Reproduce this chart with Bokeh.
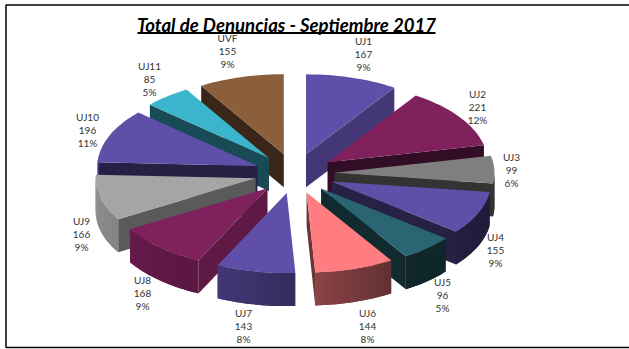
import math
from bokeh.plotting import figure
from bokeh.models import Range1d
from bokeh.core.properties import value
from bokeh.embed import file_html
from bokeh.resources import INLINE

names = ["UJ1","UJ2","UJ3","UJ4","UJ5","UJ6","UJ7","UJ8","UJ9","UJ10","UJ11","UVF"]
counts = [167,221,99,155,96,144,143,168,166,196,85,155]
percents = [9,12,6,9,5,8,8,9,9,11,5,9]
title = "Total de Denuncias - Septiembre 2017"

colors = ["#604fa8","#7f215c","#7f7f7f","#604fa8","#296572","#ff7c80",
          "#604fa8","#7f215c","#a5a5a5","#604fa8","#3bb5cc","#8b5e3c"]
label_pos = [(363,40.5),(477,93.5),(511,156.5),(495,236.5),(442,281.5),(367,312.5),
             (243,312.5),(142,279.5),(81,220.5),(87,116.5),(149,65.5),(227,37.5)]

CX, CY, RX, K, EXPLODE, DEPTH = 294, 173, 160, 0.5, 40, 33

def lerp_table(tbl, a):
    if a <= tbl[0][0]: return tbl[0][1]
    for (a0,v0),(a1,v1) in zip(tbl, tbl[1:]):
        if a <= a1:
            return v0 + (v1-v0)*(a-a0)/(a1-a0)
    return tbl[-1][1]

OUTER = [(100,.36),(147,.38),(177,.55),(205,.7),(240,.8),(272,.88)]
RADIAL = [(115,.75),(149,.55),(168,.40),(240,.42)]

def shade(hex_c, f):
    r,g,b = [int(hex_c[i:i+2],16) for i in (1,3,5)]
    return "#%02x%02x%02x" % (round(r*f),round(g*f),round(b*f))

def pt(ax, ay, deg, r=RX):
    t = math.radians(deg)
    return ax + r*math.sin(t), ay - r*K*math.cos(t)

total = sum(counts)
slices = []
cum = 0.0
for i, c in enumerate(counts):
    a0 = cum/total*360
    cum += c
    a1 = cum/total*360
    mid = math.radians((a0+a1)/2)
    ax = CX + EXPLODE*math.sin(mid)
    ay = CY - EXPLODE*K*math.cos(mid)
    slices.append((i,a0,a1,ax,ay,math.cos(mid)))

xs, ys, fills = [], [], []
def add(poly, col):
    xs.append([q[0] for q in poly]); ys.append([q[1] for q in poly]); fills.append(col)

# painter's order: back to front
for i,a0,a1,ax,ay,_ in sorted(slices, key=lambda s:-s[5]):
    base = colors[i]
    n = max(4, int((a1-a0)/1.5))
    angs = [a0+(a1-a0)*j/n for j in range(n+1)]
    # radial walls facing the viewer
    for a, normal, vis in ((a0, a0-90, math.sin(math.radians(a0))<0), (a1, a1+90, math.sin(math.radians(a1))>0)):
        if vis:
            px,py = pt(ax,ay,a)
            add([(ax,ay),(px,py),(px,py+DEPTH),(ax,ay+DEPTH)], shade(base, lerp_table(RADIAL, normal%360)))
    # outer wall as shaded strips, each overlapping the next one
    for j,(u,v) in enumerate(zip(angs, angs[1:])):
        if 90 <= (u+v)/2 <= 275:
            w = angs[min(j+2,n)]
            p0,p1 = pt(ax,ay,u),pt(ax,ay,w)
            pm = [pt(ax,ay,v)]
            add([p0]+pm+[p1,(p1[0],p1[1]+DEPTH),(pm[0][0],pm[0][1]+DEPTH),(p0[0],p0[1]+DEPTH)], shade(base, lerp_table(OUTER,(u+v)/2)))
    add([(ax,ay)]+[pt(ax,ay,a) for a in angs], base)

p = figure(width=629, height=349, output_backend="svg", toolbar_location=None,
           x_range=Range1d(0,629), y_range=Range1d(349,0), min_border=0,
           outline_line_color=None, background_fill_color="white")
p.axis.visible = False
p.grid.visible = False

# frame
p.line([629,5.5,5.5,629],[4.5,4.5,347,347], line_color="black", line_width=1.5)

p.patches(xs, ys, fill_color=fills, line_color=None)

# title
p.text([286],[24.5],text=[title],text_font=value("Lato"),text_font_style="bold italic",
       text_font_size="18.6px",text_color="#000000",text_align="center",text_baseline="middle")
p.line([137,435],[32.5,32.5],line_color="black",line_width=2)

# labels
for (lx,ly),nm,c,pc in zip(label_pos,names,counts,percents):
    p.text([lx]*3,[ly,ly+13,ly+26],text=[nm,str(c),f"{pc}%"],text_font=value("Lato"),
           text_font_size="10px",text_color="#333333",text_align="center",text_baseline="middle")

open("out.html","w").write(file_html(p, INLINE))
